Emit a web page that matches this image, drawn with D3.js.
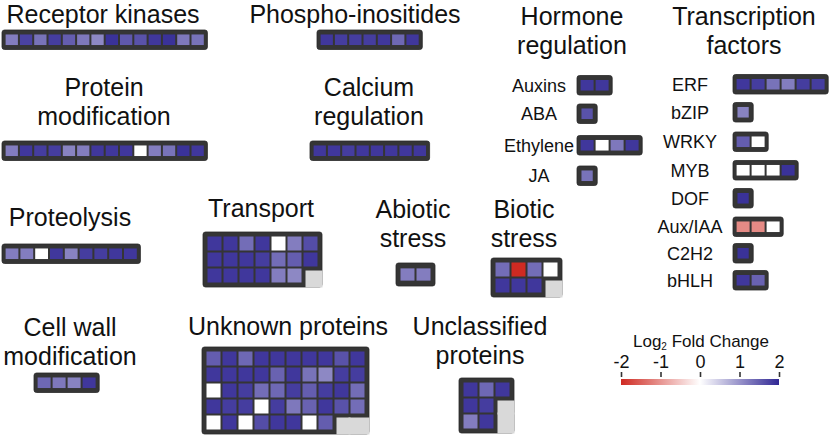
<!DOCTYPE html>
<html><head><meta charset="utf-8">
<script src="https://cdn.jsdelivr.net/npm/d3@7"></script>
<style>
html,body{margin:0;padding:0;background:#fff;}
svg{display:block;font-family:"Liberation Sans",Arial,sans-serif;}
</style></head>
<body><svg id="chart" width="829" height="436"></svg>
<script>
// ---------- DATA (log2 fold change; null = no gene) ----------
const receptorKinases = [1.2, 1.75, 1.3, 1.8, 1.5, 1.25, 1.1, 1.9, 1.55, 1.6, 1.85, 1.9, 1.25, 1.3];
const phosphoInositides = [1.85, 1.8, 1.8, 1.8, 1.85, 1.4, 1.85];
const proteinModification = [1.2, 1.85, 1.8, 1.8, 1.15, 1.2, 1.85, 1.85, 1.85, 0, 1.2, 1.3, 1.9, 1.85];
const calciumRegulation = [1.85, 1.85, 1.8, 1.85, 1.85, 1.85, 1.85, 1.85];
const proteolysis = [1.2, 1.2, 0, 1.85, 1.15, 1.8, 1.8, 1.85, 1.85];
const cellWallModification = [1.4, 1.25, 1.15, 1.85];
const transport = [
  [1.85, 1.85, 1.35, 1.85, 0, 1.2, 1.65],
  [1.85, 1.85, 1.85, 1.8, 1.35, 1.5, 1.85],
  [1.85, 1.85, 1.85, 1.85, 1.2, 1.1, null]
];
const abioticStress = [1.2, 1.2];
const bioticStress = [
  [1.35, -2, 1.35, 0],
  [1.85, 1.85, 1.85, null]
];
const unknownProteins = [
  [1.5, 1.85, 1.4, 1.85, 1.85, 1.85, 1.85, 1.85, 1.6, 1.85],
  [1.85, 1.85, 1.85, 1.85, 1.45, 1.85, 1.3, 1.1, 1.8, 1.8],
  [0, 1.85, 1.8, 1.35, 1.4, 1.8, 1.5, 1.8, 1.85, 1.35],
  [1.85, 1.8, 1.8, 0, 1.8, 1.25, 1.45, 1.85, 1.6, 1.35],
  [0, 1.85, 0, 1.65, 1.85, 1.85, 0, 1.5, null, null]
];
const unclassifiedProteins = [
  [1.85, 1.4, 1.85],
  [1.85, 1.8, null],
  [1.2, 1.85, null]
];
const hormoneLabels = ["Auxins", "ABA", "Ethylene", "JA"];
const hormoneValues = [[1.85, 1.85], [1.6], [1.85, 0, 1.25, 1.85], [1.3]];
const tfLabels = ["ERF", "bZIP", "WRKY", "MYB", "DOF", "Aux/IAA", "C2H2", "bHLH"];
const tfValues = [[1.85, 1.8, 1.3, 1.2, 1.8, 1.8], [1.15], [1.5, 0], [0, 0, 0, 1.9], [1.9], [-1.1, -1.1, 0], [1.9], [1.85, 1.45]];
const legendTicks = [-2, -1, 0, 1, 2];

// ---------- SCALES / STYLE ----------
const color = d3.scaleLinear().domain([-2, 0, 2]).range(["#cf2a22", "#ffffff", "#302794"]).clamp(true);
const svg = d3.select("#chart");
const FONT = 25, LINE = 29, LABEL = 18;
const SMALL = {pitch: 14.3, pitchY: 14.3, gap: 2, pad: 3.6};
const BIG = {pitch: 16, pitchY: 16, gap: 2, pad: 4.5};

function drawGrid(rows, x, y, s, pitchOverride) {
  if (!Array.isArray(rows[0])) rows = [rows];
  const cols = d3.max(rows, r => r.length), nr = rows.length;
  const pitch = pitchOverride || s.pitch, pitchY = s.pitchY, gap = s.gap, pad = s.pad;
  const xs = d3.scaleBand().domain(d3.range(cols))
    .range([x + pad, x + pad + cols * pitch - gap]).paddingInner(gap / pitch).paddingOuter(0);
  const ys = d3.scaleBand().domain(d3.range(nr))
    .range([y + pad, y + pad + nr * pitchY - gap]).paddingInner(gap / pitchY).paddingOuter(0);
  const W = 2 * pad + cols * pitch - gap, H = 2 * pad + nr * pitchY - gap;
  const g = svg.append("g");
  g.append("rect").attr("x", x).attr("y", y).attr("width", W).attr("height", H)
    .attr("rx", 2.5).attr("fill", "#353535").attr("stroke", "#2a2a2a").attr("stroke-width", 0.8);
  const cells = [];
  rows.forEach((r, ri) => r.forEach((v, ci) => cells.push({v, ri, ci})));
  const bw = xs.bandwidth(), bh = ys.bandwidth();
  // empty (gray) corner
  cells.filter(d => d.v === null).forEach(d => {
    const leftNull = d.ci > 0 && rows[d.ri][d.ci - 1] === null;
    const topNull = d.ri > 0 && rows[d.ri - 1][d.ci] === null;
    const x0 = leftNull ? xs(d.ci) - pitch + bw : xs(d.ci) + 2;
    const y0 = topNull ? ys(d.ri) - pitchY + bh : ys(d.ri) + 2;
    const x1 = d.ci === cols - 1 ? x + W + 0.5 : xs(d.ci) + bw + gap;
    const y1 = d.ri === nr - 1 ? y + H + 0.5 : ys(d.ri) + bh + gap;
    g.append("rect").attr("x", x0).attr("y", y0).attr("width", x1 - x0).attr("height", y1 - y0).attr("fill", "#d9d9d9");
  });
  g.selectAll("rect.cell").data(cells.filter(d => d.v !== null)).join("rect")
    .attr("class", "cell")
    .attr("x", d => xs(d.ci)).attr("y", d => ys(d.ri))
    .attr("width", bw).attr("height", bh)
    .attr("fill", d => color(d.v));
  return {W, H};
}

function title(lines, cx, baseline, anchor) {
  const t = svg.append("text").attr("font-size", FONT).attr("fill", "#111")
    .attr("text-anchor", anchor || "middle");
  lines.forEach((l, i) => t.append("tspan").attr("x", cx).attr("y", baseline + i * LINE).text(l));
}

// ---------- LAYOUT ----------
title(["Receptor kinases"], 103, 22.8);
drawGrid(receptorKinases, 2, 30, SMALL);

title(["Phospho-inositides"], 355, 22.8);
drawGrid(phosphoInositides, 317, 30, SMALL);

title(["Protein", "modification"], 104, 96);
drawGrid(proteinModification, 2, 141, SMALL);

title(["Calcium", "regulation"], 369, 96);
drawGrid(calciumRegulation, 310, 141, SMALL);

title(["Hormone", "regulation"], 572, 25);
const hormoneY = [75.5, 104, 135.5, 166];
hormoneLabels.forEach((lab, i) => {
  const r = drawGrid(hormoneValues[i], 577, hormoneY[i], SMALL, 15);
  svg.append("text").attr("x", 539).attr("y", hormoneY[i] + r.H / 2 + 6.5)
    .attr("text-anchor", "middle").attr("font-size", LABEL).attr("fill", "#111").text(lab);
});

title(["Transcription", "factors"], 744, 25);
const tfY = [74.5, 102.5, 132, 160.5, 188.5, 217, 243.5, 270.5];
tfLabels.forEach((lab, i) => {
  const r = drawGrid(tfValues[i], 733, tfY[i], SMALL, 15);
  svg.append("text").attr("x", 690).attr("y", tfY[i] + r.H / 2 + 6.5)
    .attr("text-anchor", "middle").attr("font-size", LABEL).attr("fill", "#111").text(lab);
});

title(["Proteolysis"], 70, 226);
drawGrid(proteolysis, 2, 244, SMALL, 14.8);

title(["Transport"], 261, 217);
drawGrid(transport, 203, 232, BIG);

title(["Abiotic", "stress"], 413, 218);
drawGrid(abioticStress, 396, 263, BIG);

title(["Biotic", "stress"], 524, 218);
drawGrid(bioticStress, 491, 258, BIG);

title(["Cell wall", "modification"], 70, 336);
drawGrid(cellWallModification, 34, 373, SMALL, 15);

title(["Unknown proteins"], 288, 335);
drawGrid(unknownProteins, 202, 347, BIG);

title(["Unclassified", "proteins"], 480, 335);
drawGrid(unclassifiedProteins, 459, 378, BIG);

// ---------- LEGEND ----------
const lx = d3.scaleLinear().domain([-2, 2]).range([621, 779]);
const lt = svg.append("text").attr("x", 701).attr("y", 347).attr("text-anchor", "middle")
  .attr("font-size", 17).attr("fill", "#111");
lt.append("tspan").text("Log");
lt.append("tspan").attr("font-size", 10).attr("dy", 3).text("2");
lt.append("tspan").attr("dy", -3).text(" Fold Change");

const defs = svg.append("defs");
const grad = defs.append("linearGradient").attr("id", "lg").attr("x1", "0%").attr("x2", "100%");
d3.range(0, 1.0001, 0.05).forEach(t => grad.append("stop")
  .attr("offset", (t * 100) + "%").attr("stop-color", color(-2 + 4 * t)));
svg.append("rect").attr("x", lx(-2)).attr("y", 379).attr("width", lx(2) - lx(-2)).attr("height", 6)
  .attr("fill", "url(#lg)");

const axis = d3.axisTop(lx).tickValues(legendTicks).tickSize(5).tickPadding(4).tickFormat(d3.format("d"));
const ag = svg.append("g").attr("transform", "translate(0,377)").call(axis);
ag.select(".domain").remove();
ag.selectAll(".tick line").attr("stroke", "#333").attr("stroke-width", 1.6);
ag.selectAll(".tick text").attr("font-size", 18).attr("fill", "#111")
  .attr("font-family", "'Liberation Sans',Arial,sans-serif")
  .text(d => d < 0 ? "-" + Math.abs(d) : d);
</script></body></html>
